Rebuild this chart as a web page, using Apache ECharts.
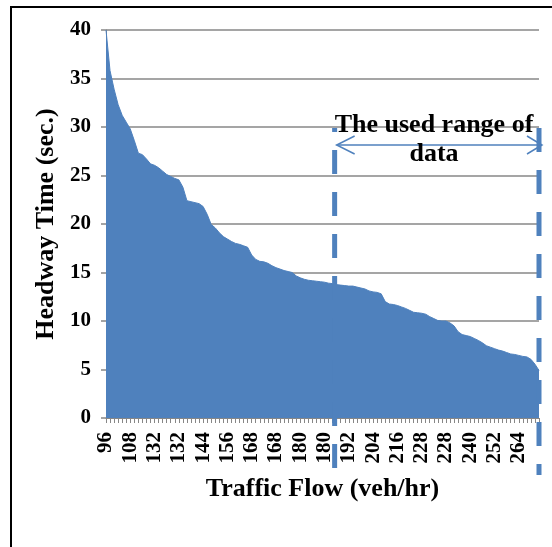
<!DOCTYPE html>
<html>
<head>
<meta charset="utf-8">
<script src="https://cdn.jsdelivr.net/npm/echarts@6/dist/echarts.min.js"></script>
<style>
  html, body { margin: 0; padding: 0; background: #fff; }
  #chart { width: 552px; height: 547px; }
</style>
</head>
<body>
<div id="chart"></div>
<script>
// traffic flow (veh/hr) for each sorted observation, ascending
const flowLabels = [
  '96', '96', '96', '96', '108', '108',
  '108', '108', '120', '120', '120', '132',
  '132', '132', '132', '132', '132', '132',
  '132', '132', '144', '144', '144', '144',
  '144', '144', '144', '156', '156', '156',
  '156', '156', '156', '156', '168', '168',
  '168', '168', '168', '168', '168', '168',
  '168', '168', '168', '180', '180', '180',
  '180', '180', '180', '180', '180', '180',
  '180', '180', '180', '192', '192', '192',
  '192', '192', '192', '192', '204', '204',
  '204', '204', '204', '204', '216', '216',
  '216', '216', '216', '216', '228', '228',
  '228', '228', '228', '228', '228', '228',
  '228', '228', '228', '240', '240', '240',
  '240', '240', '240', '252', '252', '252',
  '252', '252', '252', '264', '264', '264',
  '264', '264', '264', '276', '276', '288'
]

// headway time (sec.)
const headway = [
  40, 35.8, 33.9, 32.3, 31.2, 30.5, 29.8, 28.6, 27.3, 27.15,
  26.7, 26.2, 26.05, 25.8, 25.45, 25.1, 24.9, 24.7, 24.55, 23.8,
  22.4, 22.3, 22.2, 22.1, 21.8, 21.0, 19.95, 19.6, 19.1, 18.7,
  18.45, 18.2, 18.0, 17.9, 17.75, 17.6, 16.8, 16.35, 16.15, 16.1,
  15.95, 15.7, 15.5, 15.35, 15.2, 15.1, 15.0, 14.65, 14.45, 14.3,
  14.2, 14.15, 14.1, 14.05, 14.0, 13.9, 13.85, 13.75, 13.7, 13.65,
  13.6, 13.6, 13.5, 13.4, 13.3, 13.1, 13.0, 12.95, 12.8, 12.0,
  11.75, 11.7, 11.6, 11.45, 11.3, 11.1, 10.9, 10.85, 10.8, 10.7,
  10.45, 10.25, 10.05, 10.0, 10.0, 9.8, 9.5, 8.9, 8.6, 8.5,
  8.4, 8.2, 8.0, 7.75, 7.45, 7.3, 7.15, 7.0, 6.9, 6.75,
  6.6, 6.55, 6.45, 6.35, 6.3, 6.05, 5.55, 4.9
]

// used range of data, as category positions (start sits between two points)
const usedRange = [56.5, 107]
const rangeText = 'The used range of\ndata'

const blue = '#4F81BD'
const grey = '#878787'
const serif = 'Liberation Serif'

const chart = echarts.init(document.getElementById('chart'))

const option = {
  backgroundColor: '#fff',
  animation: false,
  grid: {
    left: 106,
    right: 13,
    top: 30,
    bottom: 129
  },
  xAxis: {
    type: 'category',
    data: flowLabels,
    boundaryGap: false,
    name: 'Traffic Flow (veh/hr)',
    nameLocation: 'middle',
    nameGap: 58,
    nameTextStyle: {
      fontFamily: serif,
      fontWeight: 'bold',
      fontSize: 26,
      color: '#000'
    },
    axisLine: {lineStyle: {color: grey, width: 1}},
    axisTick: {
      interval: 0,
      length: 5,
      lineStyle: {color: grey, width: 1}
    },
    axisLabel: {
      interval: 5,
      rotate: 90,
      margin: 14,
      fontFamily: serif,
      fontWeight: 'bold',
      fontSize: 21,
      color: '#000'
    },
    splitLine: {show: false}
  },
  yAxis: {
    type: 'value',
    min: 0,
    max: 40,
    interval: 5,
    name: 'Headway Time (sec.)',
    nameLocation: 'middle',
    nameGap: 45,
    nameTextStyle: {
      fontFamily: serif,
      fontWeight: 'bold',
      fontSize: 26,
      color: '#000'
    },
    axisLine: {show: true, lineStyle: {color: grey, width: 1}},
    axisTick: {show: true, length: 5, lineStyle: {color: grey, width: 1.5}},
    axisLabel: {
      margin: 15,
      fontFamily: serif,
      fontWeight: 'bold',
      fontSize: 21,
      color: '#000'
    },
    splitLine: {lineStyle: {color: grey, width: 1.5}}
  },
  series: [
    {
      type: 'line',
      data: headway,
      showSymbol: false,
      smooth: false,
      lineStyle: {color: blue, width: 1},
      areaStyle: {color: blue, opacity: 1},
      z: 2
    }
  ]
}

chart.setOption(option)

// pixel helpers for the annotation
const xAt = (pos) => {
  const a = Math.floor(pos)
  const b = Math.ceil(pos)
  const pa = chart.convertToPixel({xAxisIndex: 0}, a)
  const pb = chart.convertToPixel({xAxisIndex: 0}, b)
  return pa + (pb - pa) * (pos - a)
}
const x1 = xAt(usedRange[0])
const x2 = xAt(usedRange[1])
const arrowY = 145

chart.setOption({
  graphic: [
    {
      // outer frame
      type: 'rect',
      z: 1,
      shape: {x: 11, y: 7, width: 700, height: 700},
      style: {fill: null, stroke: '#000', lineWidth: 2}
    },
    {
      type: 'line',
      z: 100,
      shape: {x1: x1, y1: 128, x2: x1, y2: 468},
      style: {stroke: blue, lineWidth: 5, lineDash: [24, 18], lineDashOffset: 20}
    },
    {
      type: 'line',
      z: 100,
      shape: {x1: x2, y1: 128, x2: x2, y2: 475},
      style: {stroke: blue, lineWidth: 5, lineDash: [24, 18]}
    },
    {
      type: 'line',
      z: 101,
      shape: {x1: x1 + 2, y1: arrowY, x2: x2 + 2, y2: arrowY},
      style: {stroke: blue, lineWidth: 1.5}
    },
    {
      type: 'polyline',
      z: 101,
      shape: {points: [[x1 + 20, arrowY - 9], [x1 + 2, arrowY], [x1 + 20, arrowY + 9]]},
      style: {stroke: blue, lineWidth: 1.5, fill: null}
    },
    {
      type: 'polyline',
      z: 101,
      shape: {points: [[x2 - 12, arrowY - 9], [x2 + 3, arrowY], [x2 - 12, arrowY + 9]]},
      style: {stroke: blue, lineWidth: 1.5, fill: null}
    },
    {
      type: 'text',
      z: 102,
      style: {
        x: 434,
        y: 111,
        text: rangeText,
        align: 'center',
        verticalAlign: 'top',
        lineHeight: 29,
        fontFamily: serif,
        fontWeight: 'bold',
        fontSize: 26,
        fill: '#000'
      }
    }
  ]
})
</script>
</body>
</html>
